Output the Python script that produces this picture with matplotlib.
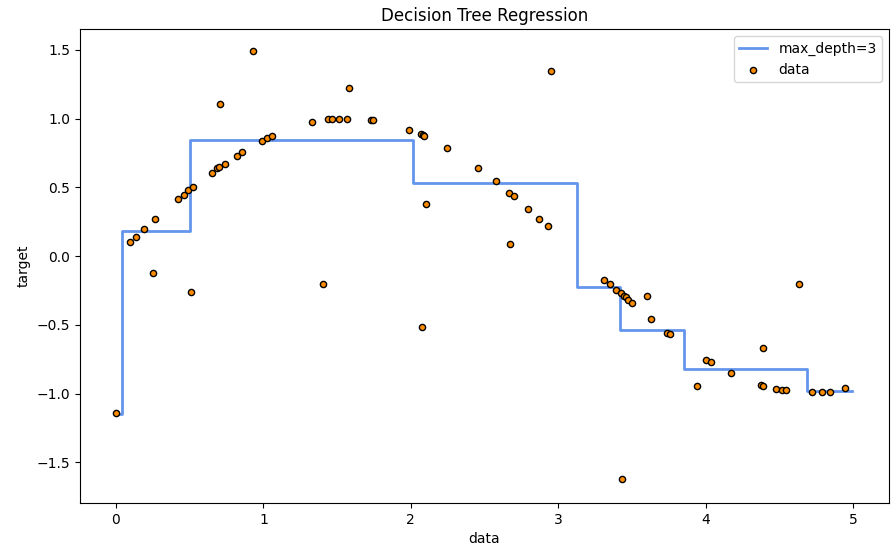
import matplotlib
matplotlib.use("Agg")
import matplotlib.pyplot as plt
import numpy as np

# Scatter data
data_x = [0.000, 0.095, 0.136, 0.192, 0.253, 0.265, 0.421, 0.459, 0.488, 0.524,
          0.509, 0.649, 0.687, 0.699, 0.737, 0.706, 0.823, 0.857, 0.931, 0.993,
          1.022, 1.060, 1.328, 1.402, 1.436, 1.463, 1.513, 1.565, 1.581, 1.730,
          1.741, 1.988, 2.070, 2.080, 2.092, 2.103, 2.074, 2.243, 2.456, 2.576,
          2.664, 2.698, 2.675, 2.793, 2.872, 2.933, 2.951, 3.313, 3.352, 3.392,
          3.426, 3.445, 3.460, 3.471, 3.501, 3.433, 3.600, 3.630, 3.736, 3.758,
          3.944, 4.000, 4.034, 4.170, 4.387, 4.376, 4.389, 4.478, 4.516, 4.545,
          4.634, 4.724, 4.792, 4.844, 4.948]
data_y = [-1.145, 0.100, 0.140, 0.196, -0.121, 0.269, 0.415, 0.446, 0.480, 0.502,
          -0.259, 0.606, 0.642, 0.649, 0.669, 1.103, 0.729, 0.754, 1.493, 0.836,
          0.860, 0.873, 0.977, -0.200, 0.996, 0.996, 0.996, 0.996, 1.220, 0.989,
          0.987, 0.914, 0.885, 0.878, 0.870, 0.376, -0.515, 0.788, 0.640, 0.545,
          0.460, 0.439, 0.090, 0.342, 0.269, 0.218, 1.345, -0.172, -0.201, -0.250,
          -0.272, -0.290, -0.298, -0.322, -0.344, -1.622, -0.288, -0.458, -0.560, -0.565,
          -0.945, -0.754, -0.773, -0.848, -0.672, -0.936, -0.948, -0.965, -0.975, -0.975,
          -0.206, -0.989, -0.989, -0.989, -0.962]

# Tree prediction (max_depth=3): step edges and levels
step_edges = [0.0, 0.039, 0.505, 2.017, 3.130, 3.419, 3.853, 4.686, 4.99]
step_levels = [-1.150, 0.180, 0.845, 0.533, -0.222, -0.537, -0.820, -0.985]

fig = plt.figure(figsize=(8.91, 5.47), dpi=100)
ax = fig.add_axes([80/891, 1 - 503/547, (889-80)/891, (503-29)/547])

sx = np.array(step_edges)
sy = np.array(step_levels + [step_levels[-1]])
ax.step(sx, sy, where="post", color="cornflowerblue", linewidth=2, label="max_depth=3")
ax.scatter(data_x, data_y, s=20, edgecolor="black", c="darkorange", label="data", zorder=3)

ax.set_xlim(-0.244, 5.244)
ax.set_ylim(-1.796, 1.651)
ax.set_xticks([0, 1, 2, 3, 4, 5])
ax.set_yticks([-1.5, -1.0, -0.5, 0.0, 0.5, 1.0, 1.5])
ax.set_xlabel("data")
ax.set_ylabel("target")
ax.set_title("Decision Tree Regression")
ax.legend(loc="upper right")

fig.savefig("out.png", dpi=100)
